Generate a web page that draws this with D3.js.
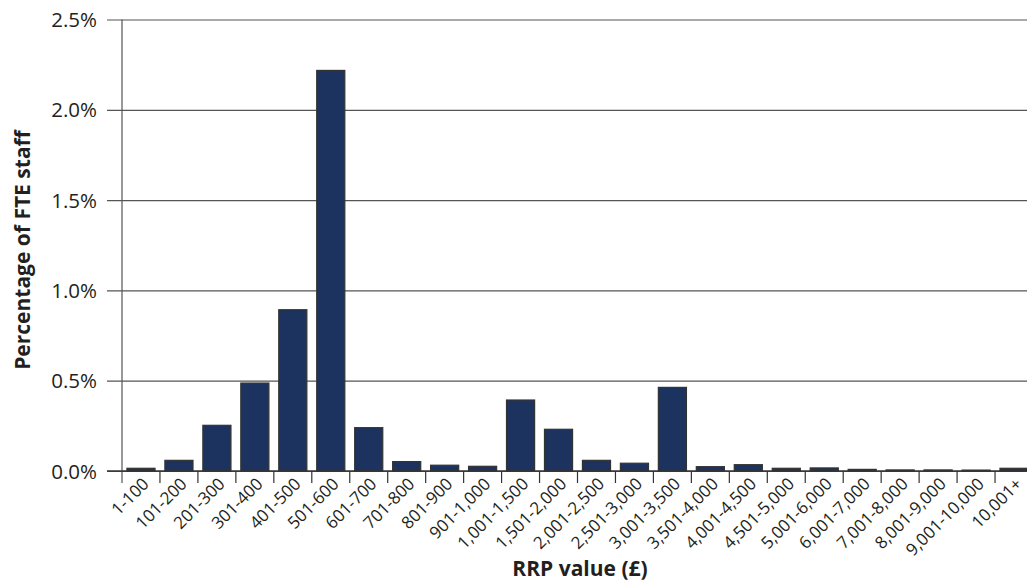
<!DOCTYPE html>
<html><head><meta charset="utf-8">
<script src="https://cdn.jsdelivr.net/npm/d3@7"></script>
<style>body{margin:0;background:#fff;} svg{display:block;}</style>
</head><body>
<svg id="c" width="1027" height="588"></svg>
<script>
const categories = ["1-100","101-200","201-300","301-400","401-500","501-600","601-700","701-800","801-900","901-1,000","1,001-1,500","1,501-2,000","2,001-2,500","2,501-3,000","3,001-3,500","3,501-4,000","4,001-4,500","4,501-5,000","5,001-6,000","6,001-7,000","7,001-8,000","8,001-9,000","9,001-10,000","10,001+"];
const values = [0.015,0.059,0.253,0.487,0.893,2.218,0.240,0.052,0.032,0.026,0.393,0.231,0.059,0.043,0.463,0.024,0.035,0.015,0.017,0.009,0.006,0.006,0.005,0.015];
const yTicks = [0,0.5,1.0,1.5,2.0,2.5];
const yLabel = "Percentage of FTE staff";
const xLabel = "RRP value (£)";

(function () {
const svg = d3.select("#c");
const mLeft = 122, mRight = 1033, mTop = 19.5, mBottom = 471;
const font = "'Open Sans', 'Noto Sans', sans-serif";
const textColor = "#231f20";

const x = d3.scaleBand().domain(categories).range([mLeft, mRight]).paddingInner(0.26).paddingOuter(0.13);
const y = d3.scaleLinear().domain([0, 2.5]).range([mBottom, mTop]);

// gridlines + y labels
const yAxis = d3.axisLeft(y).tickValues(yTicks).tickSize(15).tickPadding(10).tickFormat(d => d.toFixed(1) + "%");
const gy = svg.append("g").attr("transform", `translate(${mLeft},0)`).call(yAxis);
gy.select(".domain").remove();
gy.selectAll(".tick line").attr("x2", 1027).attr("x1", -15).attr("stroke", "#555").attr("stroke-width", 1.2);
gy.selectAll(".tick text").attr("font-family", font).attr("font-size", 20.5).attr("fill", textColor).attr("dy", "0.35em");

// bars
svg.append("g").selectAll("rect").data(values).join("rect")
  .attr("x", (d, i) => x(categories[i]))
  .attr("width", x.bandwidth())
  .attr("y", d => y(d))
  .attr("height", d => y(0) - y(d))
  .attr("fill", "#1c335f")
  .attr("stroke", "#333")
  .attr("stroke-width", 1.2);

// vertical axis line
svg.append("line").attr("x1", mLeft).attr("x2", mLeft).attr("y1", mTop).attr("y2", mBottom + 12)
  .attr("stroke", "#555").attr("stroke-width", 1.2);
svg.append("line").attr("x1", mLeft - 15).attr("x2", 1027).attr("y1", mBottom).attr("y2", mBottom)
  .attr("stroke", "#333").attr("stroke-width", 1.4);

// x ticks at band boundaries
const step = x.step();
const boundaries = d3.range(1, categories.length).map(i => mLeft + i * step);
svg.append("g").selectAll("line").data(boundaries).join("line")
  .attr("x1", d => d).attr("x2", d => d).attr("y1", mBottom).attr("y2", mBottom + 12)
  .attr("stroke", "#333").attr("stroke-width", 1.2);

// x tick labels
svg.append("g").selectAll("text").data(categories).join("text")
  .attr("transform", d => `translate(${x(d) + x.bandwidth() / 2 + 9},${mBottom + 14}) rotate(-45)`)
  .attr("text-anchor", "end")
  .attr("font-family", font).attr("font-size", 17).attr("fill", textColor)
  .text(d => d);

// axis titles
svg.append("text").attr("transform", `translate(30,250) rotate(-90)`)
  .attr("text-anchor", "middle").attr("font-family", font).attr("font-weight", "bold")
  .attr("font-size", 21).attr("fill", textColor).text(yLabel);
svg.append("text").attr("x", 580).attr("y", 576)
  .attr("text-anchor", "middle").attr("font-family", font).attr("font-weight", "bold")
  .attr("font-size", 21).attr("fill", textColor).text(xLabel);
})();
</script>
</body></html>
